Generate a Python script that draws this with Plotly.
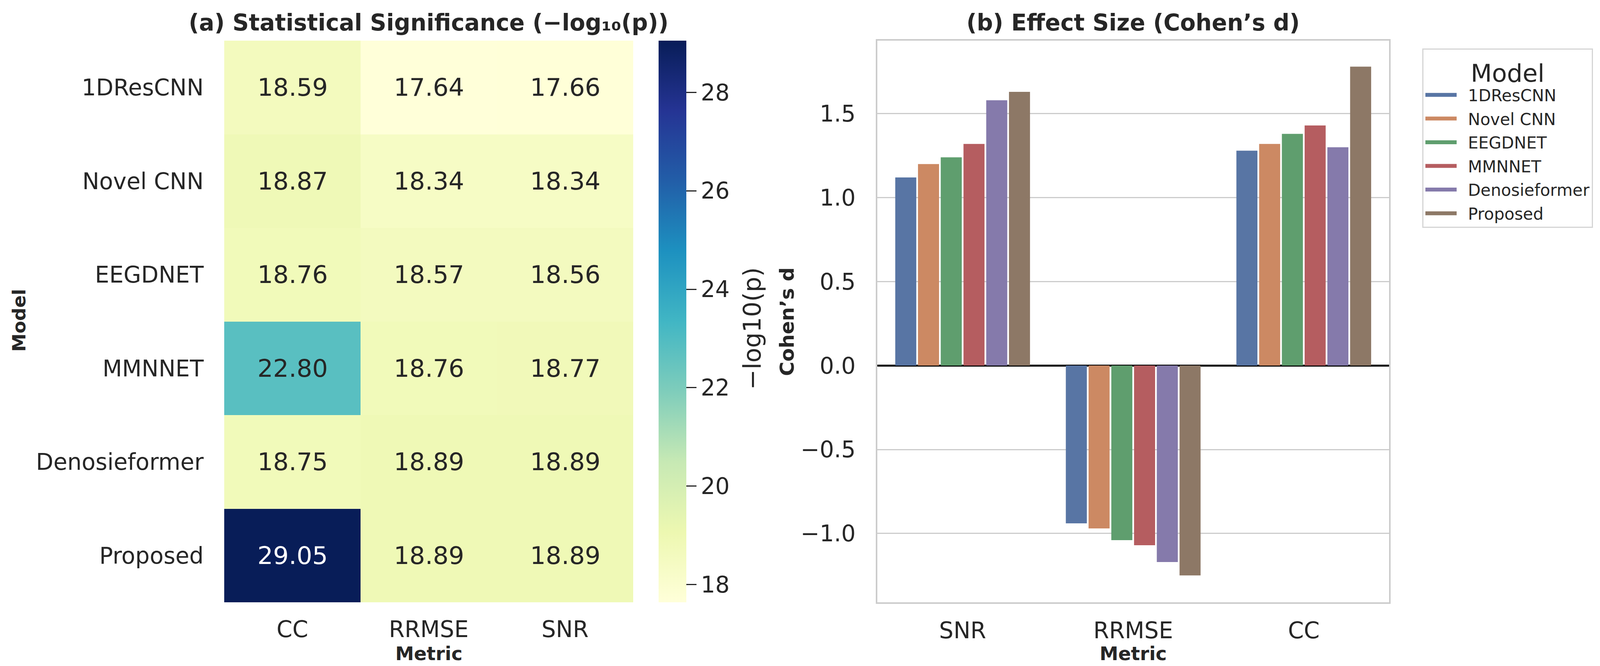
import plotly.graph_objects as go

# ---------------- data ----------------
models = ["1DResCNN", "Novel CNN", "EEGDNET", "MMNNET", "Denosieformer", "Proposed"]
heat_metrics = ["CC", "RRMSE", "SNR"]
neglog_cc = [18.59, 18.87, 18.76, 22.80, 18.75, 29.05]
neglog_rrmse = [17.64, 18.34, 18.57, 18.76, 18.89, 18.89]
neglog_snr = [17.66, 18.34, 18.56, 18.77, 18.89, 18.89]

bar_metrics = ["SNR", "RRMSE", "CC"]
d_1dres = [1.12, -0.94, 1.28]
d_novel = [1.20, -0.97, 1.32]
d_eegd = [1.24, -1.04, 1.38]
d_mmn = [1.32, -1.07, 1.43]
d_denos = [1.58, -1.17, 1.30]
d_prop = [1.63, -1.25, 1.78]

colorbar_ticks = [18, 20, 22, 24, 26, 28]

# ---------------- style ----------------
W, H = 4115, 1704
FONT = "DejaVu Sans"
TXT = "#262626"
bar_colors = ["#5875A4", "#CC8963", "#5F9E6E", "#B55D60", "#857AAB", "#8D7866"]
ylgnbu = ["#ffffd9", "#edf8b1", "#c7e9b4", "#7fcdbb", "#41b6c4",
          "#1d91c0", "#225ea8", "#253494", "#081d58"]
cscale = [[i / 8, c] for i, c in enumerate(ylgnbu)]

def px_x(p):
    return p / W

def px_y(p):
    return 1 - p / H

ydom = [px_y(1533), px_y(96)]
hm_dom = [px_x(566), px_x(1613)]
bar_dom = [px_x(2238), px_x(3548)]

z = [[neglog_cc[i], neglog_rrmse[i], neglog_snr[i]] for i in range(len(models))]
zmin = min(min(r) for r in z)
zmax = max(max(r) for r in z)

fig = go.Figure()

fig.add_trace(go.Heatmap(
    z=z, x=heat_metrics, y=models,
    colorscale=cscale, zmin=zmin, zmax=zmax,
    xaxis="x", yaxis="y", showscale=True, hoverinfo="skip",
    colorbar=dict(
        x=px_x(1678), xanchor="left", xpad=0, ypad=0,
        y=ydom[0], yanchor="bottom", len=ydom[1] - ydom[0], lenmode="fraction",
        thickness=71, thicknessmode="pixels", outlinewidth=0,
        tickvals=colorbar_ticks, ticks="outside", ticklen=26, tickwidth=3,
        tickcolor=TXT, tickfont=dict(family=FONT, size=58, color=TXT),
    ),
))

series = [d_1dres, d_novel, d_eegd, d_mmn, d_denos, d_prop]
for name, vals, col in zip(models, series, bar_colors):
    fig.add_trace(go.Bar(
        x=bar_metrics, y=vals, name=name, legendgroup=name, showlegend=False,
        marker=dict(color=col, line=dict(width=0)),
        xaxis="x2", yaxis="y2", hoverinfo="skip",
    ))
# legend swatches (legend-only entries, no data drawn)
for name, col in zip(models, bar_colors):
    fig.add_trace(go.Scatter(
        x=[None], y=[None], mode="lines", name=name, legendgroup=name,
        line=dict(color=col, width=24, dash="80px,400px"),
        xaxis="x2", yaxis="y2", hoverinfo="skip",
    ))

annotations = []
for i, m in enumerate(models):
    for j, met in enumerate(heat_metrics):
        v = z[i][j]
        annotations.append(dict(
            x=met, y=m, xref="x", yref="y", text=f"{v:.2f}", showarrow=False,
            font=dict(family=FONT, size=63, color="white" if v > 25 else TXT),
        ))

def label(text, x, y, size, angle=0, bold=True):
    return dict(text=f"<b>{text}</b>" if bold else text, x=x, y=y, xref="paper", yref="paper",
                showarrow=False, textangle=angle, xanchor="center", yanchor="middle",
                font=dict(family=FONT, size=size, color=TXT))

annotations += [
    label("(a) Statistical Significance (−log₁₀(p))", (hm_dom[0] + hm_dom[1]) / 2, px_y(50), 58),
    label("(b) Effect Size (Cohen’s d)", (bar_dom[0] + bar_dom[1]) / 2, px_y(50), 58),
    label("Metric", (hm_dom[0] + hm_dom[1]) / 2, px_y(1664), 48),
    label("Metric", (bar_dom[0] + bar_dom[1]) / 2, px_y(1664), 48),
    label("Model", px_x(40), px_y(812), 47, angle=-90),
    label("Cohen’s d", px_x(2007), px_y(815), 50, angle=-90),
    label("−log10(p)", px_x(1917), px_y(833), 62, angle=-90, bold=False),
]

fig.update_layout(
    width=W, height=H, margin=dict(l=0, r=0, t=0, b=0),
    paper_bgcolor="white", plot_bgcolor="white",
    font=dict(family=FONT, color=TXT),
    barmode="group", bargap=0.2, bargroupgap=0.075,
    xaxis=dict(domain=hm_dom, anchor="y", showgrid=False, zeroline=False, showline=False,
               ticks="outside", ticklen=18, tickcolor="rgba(0,0,0,0)",
               tickfont=dict(family=FONT, size=58, color=TXT)),
    yaxis=dict(domain=ydom, anchor="x", autorange="reversed", showgrid=False, zeroline=False,
               showline=False, ticks="outside", ticklen=40, tickcolor="rgba(0,0,0,0)",
               tickfont=dict(family=FONT, size=58, color=TXT)),
    xaxis2=dict(domain=bar_dom, anchor="y2", showgrid=False, zeroline=False,
                showline=True, linecolor="#cccccc", linewidth=4, mirror=True,
                ticks="outside", ticklen=18, tickcolor="rgba(0,0,0,0)",
                tickfont=dict(family=FONT, size=58, color=TXT)),
    yaxis2=dict(domain=ydom, anchor="x2", range=[-1.41, 1.935], dtick=0.5, tick0=0,
                tickformat=".1f", showgrid=True, gridcolor="#cccccc", gridwidth=3,
                zeroline=True, zerolinecolor="black", zerolinewidth=5,
                showline=True, linecolor="#cccccc", linewidth=4, mirror=True,
                ticks="outside", ticklen=40, tickcolor="rgba(0,0,0,0)",
                tickfont=dict(family=FONT, size=58, color=TXT)),
    legend=dict(
        x=px_x(3633), xanchor="left", y=px_y(116), yanchor="top",
        bgcolor="white", bordercolor="#d5d5d5", borderwidth=3,
        font=dict(family=FONT, size=42, color=TXT),
        title=dict(text="Model", side="top center", font=dict(family=FONT, size=63, color=TXT)),
        itemwidth=104, tracegroupgap=3, itemclick=False, itemdoubleclick=False,
    ),
    annotations=annotations,
)

fig.write_html("out.html")
